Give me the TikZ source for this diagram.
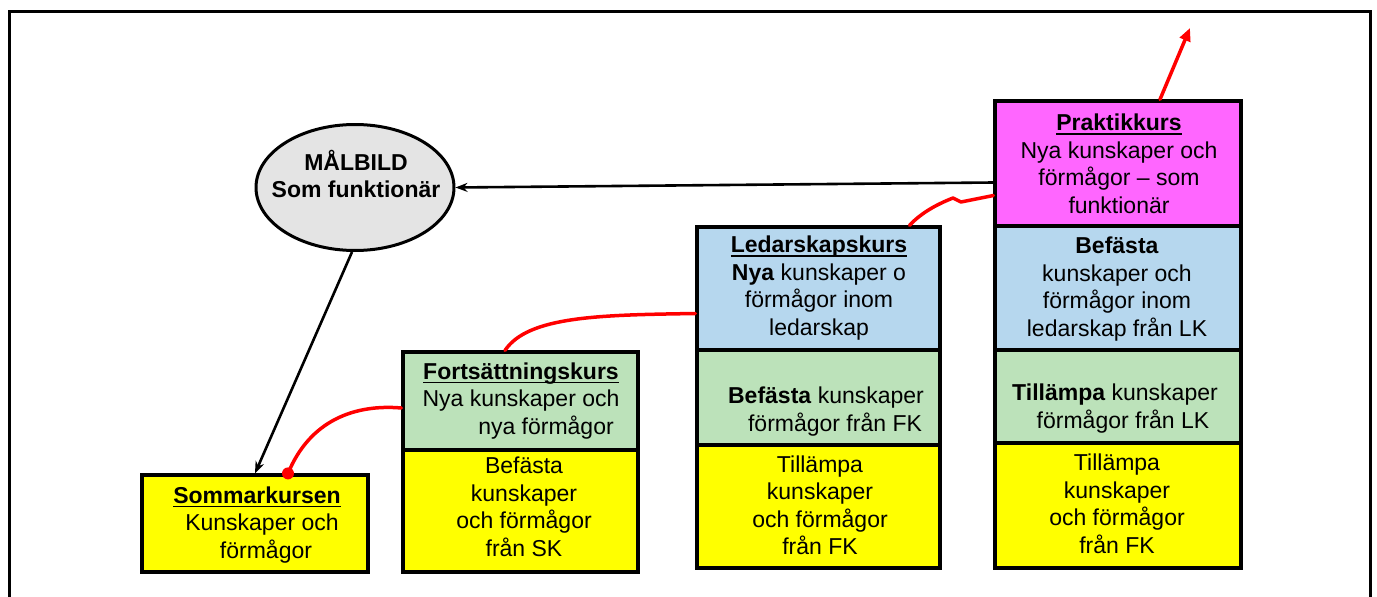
\documentclass[tikz,border=0pt]{standalone}
\usepackage{fontspec}
\setmainfont{Liberation Sans}
\usetikzlibrary{shapes.geometric,arrows.meta,calc}
\definecolor{yel}{RGB}{255,255,0}
\definecolor{grn}{RGB}{188,226,186}
\definecolor{blu}{RGB}{182,215,238}
\definecolor{mag}{RGB}{255,102,255}
\definecolor{gry}{RGB}{228,228,228}
\newcommand\myul[1]{\setbox0\hbox{#1}\rlap{\rule[-4pt]{\wd0}{1.8pt}}\box0}
\begin{document}
\begin{tikzpicture}[x=1pt,y=-1pt,
  box/.style={draw=black, line width=3.2pt, inner sep=0pt, rectangle},
  txt/.style={align=center, font=\fontsize{23}{27.5}\selectfont, inner sep=0pt, text=black},
  redl/.style={draw=red, line width=3.5pt, line cap=round, line join=round},
  blk/.style={draw=black, line width=2.6pt, -{Stealth[length=12pt,width=9pt]}}]
\useasboundingbox (0,0) rectangle (1377,597);
\draw[line width=3pt] (9,600) -- (9,11) -- (1370,11) -- (1370,600);

% boxes
\node[box, fill=yel, minimum width=226, minimum height=97] (som) at (255,523.5) {};
\node[box, fill=grn, minimum width=235, minimum height=98] (fortG) at (520.5,401) {};
\node[box, fill=yel, minimum width=235, minimum height=122] (fortY) at (520.5,511) {};
\node[box, fill=blu, minimum width=243, minimum height=123] (ledB) at (818.5,288.5) {};
\node[box, fill=grn, minimum width=243, minimum height=95] (ledG) at (818.5,397.5) {};
\node[box, fill=yel, minimum width=243, minimum height=123] (ledY) at (818.5,506.5) {};
\node[box, fill=mag, minimum width=246, minimum height=125] (prakP) at (1118,163.5) {};
\node[box, fill=blu, minimum width=246, minimum height=124] (prakB) at (1118,288) {};
\node[box, fill=grn, minimum width=246, minimum height=93] (prakG) at (1118,396.5) {};
\node[box, fill=yel, minimum width=246, minimum height=125] (prakY) at (1118,505.5) {};
\node[ellipse, draw=black, line width=3pt, fill=gry, minimum width=198, minimum height=126, inner sep=0pt] (mal) at (355,187.5) {};

% texts
\node[txt] (malT) at (356,174) {\textbf{MÅLBILD}\\\textbf{Som funktionär}};
\node[txt] (somT) at (262,525) {\hspace*{-10pt}\textbf{\myul{Sommarkursen}}\\Kunskaper och\\\hspace*{8pt}förmågor};
\node[txt] (fortGT) at (521,401) {\textbf{\myul{Fortsättningskurs}}\\Nya kunskaper och\\\hspace*{50pt}nya förmågor};
\node[txt] (fortYT) at (524,507) {Befästa\\kunskaper\\och förmågor\\från SK};
\node[txt] (ledBT) at (819,288) {\textbf{\myul{Ledarskapskurs}}\\\textbf{Nya} kunskaper o\\förmågor inom\\ledarskap};
\node[txt] (ledGT) at (826,411.5) {\textbf{Befästa} kunskaper\\\hspace*{18pt}förmågor från FK};
\node[txt] (ledYT) at (820,505.5) {Tillämpa\\kunskaper\\och förmågor\\från FK};
\node[txt] (prakPT) at (1119,164) {\textbf{\myul{Praktikkurs}}\\Nya kunskaper och\\förmågor – som\\funktionär};
\node[txt] (prakBT) at (1117,289) {\textbf{Befästa}\\kunskaper och\\förmågor inom\\ledarskap från LK};
\node[txt] (prakGT) at (1115,408.5) {\textbf{Tillämpa} kunskaper\\\hspace*{16pt}förmågor från LK};
\node[txt] (prakYT) at (1117,504) {Tillämpa\\kunskaper\\och förmågor\\från FK};

% connectors
\coordinate (redtip) at (1190,28);
\coordinate (sdot) at ($(som.north)+(33,0)$);
\draw[blk] ($(prakP.west)+(0,19)$) -- (mal.east);
\draw[blk] ($(mal.south)+(-3,0)$) -- (som.north);
\draw[redl] ($(fortG.west)+(0,7)$) .. controls (355,404) and (310,420) .. (sdot);
\fill[red] (sdot) circle (6pt);
\draw[redl] ($(ledB.west)+(0,25)$) .. controls (600,315) and (528,316) .. ($(fortG.north)+(-15.5,0)$);
\draw[redl] ($(prakP.west)+(0,32)$) -- (961,202) -- (953,198) .. controls (935,205) and (920,214) .. ($(ledB.north)+(91,0)$);
\draw[redl, -{Triangle[length=13pt,width=11pt]}] ($(prakP.north)+(42,0)$) -- (redtip);
\end{tikzpicture}
\end{document}
